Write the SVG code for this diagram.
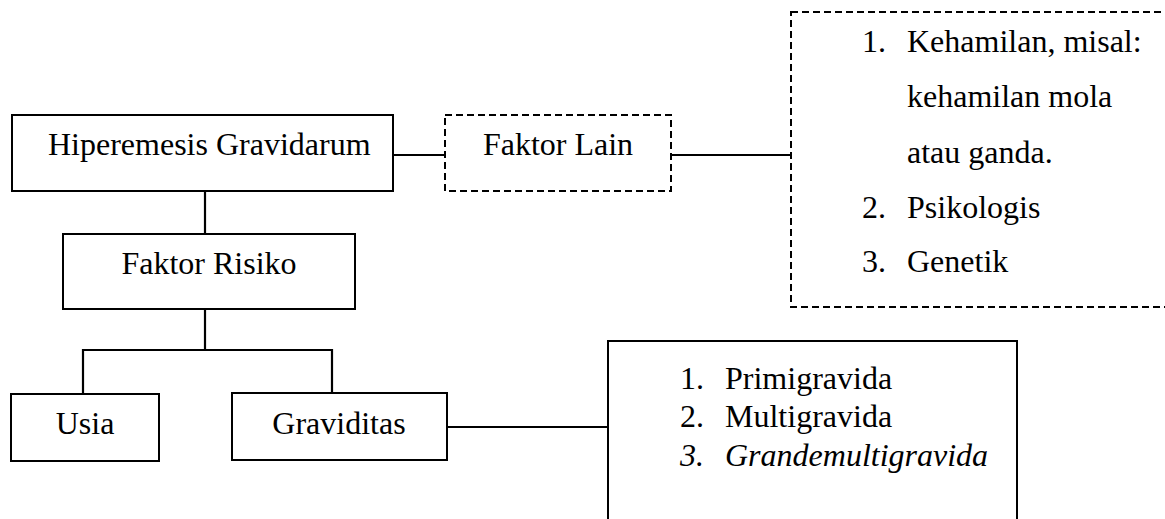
<svg xmlns="http://www.w3.org/2000/svg" width="1165" height="519" viewBox="0 0 1165 519">
<style>
.box{fill:#fff;stroke:#000;stroke-width:2}
.dash{fill:#fff;stroke:#000;stroke-width:2;stroke-dasharray:7 4}
.ln{fill:none;stroke:#000;stroke-width:2.2}
.c{text-anchor:middle}
.i{font-style:italic}
</style>
<rect width="1165" height="519" fill="#fff"/>
<g id="connectors">
<line class="ln" x1="393" y1="155" x2="445" y2="155"/>
<line class="ln" x1="671" y1="155" x2="791" y2="155"/>
<line class="ln" x1="205" y1="191" x2="205" y2="234"/>
<line class="ln" x1="205" y1="309" x2="205" y2="350"/>
<polyline class="ln" points="83,394 83,350 332,350 332,393"/>
<line class="ln" x1="447" y1="427" x2="608" y2="427"/>
</g>
<g font-family="'Liberation Serif', 'Times New Roman', 'DejaVu Serif', serif" font-size="32" fill="#000">
<g id="hiperemesis">
<rect class="box" x="12" y="115" width="381" height="76"/>
<text x="48" y="155">Hiperemesis Gravidarum</text>
</g>
<g id="faktor-lain">
<rect class="dash" x="445" y="115" width="226" height="76"/>
<text class="c" x="558" y="155">Faktor Lain</text>
</g>
<g id="faktor-lain-list">
<rect class="dash" x="791" y="12" width="400" height="295"/>
<text x="862" y="52">1.</text><text x="907" y="52">Kehamilan, misal:</text>
<text x="907" y="107">kehamilan mola</text>
<text x="907" y="163">atau ganda.</text>
<text x="862" y="218">2.</text><text x="907" y="218">Psikologis</text>
<text x="862" y="272">3.</text><text x="907" y="272">Genetik</text>
</g>
<g id="faktor-risiko">
<rect class="box" x="63" y="234" width="292" height="75"/>
<text class="c" x="209" y="274">Faktor Risiko</text>
</g>
<g id="usia">
<rect class="box" x="11" y="394" width="148" height="67"/>
<text class="c" x="85" y="434">Usia</text>
</g>
<g id="graviditas">
<rect class="box" x="232" y="393" width="215" height="67"/>
<text class="c" x="339" y="434">Graviditas</text>
</g>
<g id="graviditas-list">
<rect class="box" x="608" y="341" width="409" height="200"/>
<text x="680" y="389">1.</text><text x="725" y="389">Primigravida</text>
<text x="680" y="427">2.</text><text x="725" y="427">Multigravida</text>
<text class="i" x="680" y="466">3.</text><text class="i" x="725" y="466">Grandemultigravida</text>
</g>
</g>
</svg>
